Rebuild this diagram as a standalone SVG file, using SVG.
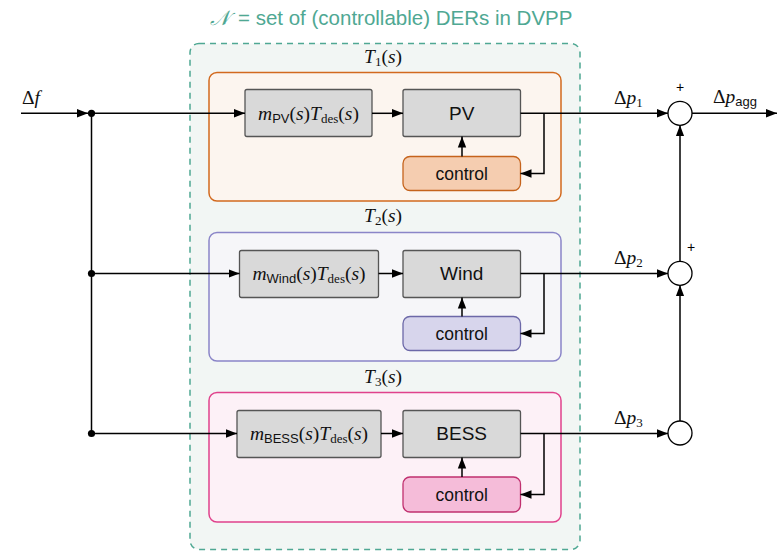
<svg xmlns="http://www.w3.org/2000/svg" width="777" height="551" viewBox="0 0 777 551">
<defs>
<marker id="ah" markerUnits="userSpaceOnUse" markerWidth="12" markerHeight="10" refX="11" refY="5" orient="auto">
<path d="M0,0.8 L11,5 L0,9.2 Z" fill="#000"/>
</marker>
<style>
.conn{fill:none;stroke:#000;stroke-width:1.5}
.arr{marker-end:url(#ah)}
.blk{fill:#d9d9d9;stroke:#555;stroke-width:1.3}
.sans{font-family:"Liberation Sans",Arial,sans-serif}
.it{font-style:italic}
.lbl{font-size:19px;fill:#111;text-anchor:middle}
.ctl{font-size:17.5px}
.math{font-family:"Liberation Serif","Times New Roman",serif;font-size:19.5px;fill:#111}
.sub{font-size:13px}
.ssub{font-family:"Liberation Sans",Arial,sans-serif;font-size:13px;font-style:normal}
</style>
</defs>
<rect width="777" height="551" fill="#fff"/>

<g id="dvpp">
<rect x="190" y="43.5" width="390" height="506" rx="9" fill="#f2f6f4" stroke="#4fa893" stroke-width="1.5" stroke-dasharray="6,5"/>
<text x="210" y="25" font-size="20.5" fill="#4fa893" class="sans"><tspan font-family="DejaVu Serif,serif" font-style="italic">𝒩</tspan><tspan x="238">= set of (controllable) DERs in DVPP</tspan></text>
</g>

<g id="T1">
<rect x="209" y="72.5" width="352" height="128.5" rx="8" fill="#fcf5ef" stroke="#d2691e" stroke-width="1.5"/>
<text x="383" y="63" text-anchor="middle" class="math"><tspan class="it">T</tspan><tspan class="sub" dy="3">1</tspan><tspan dy="-3">(</tspan><tspan class="it">s</tspan>)</text>
</g>
<g id="T2">
<rect x="209" y="232.5" width="352" height="128.5" rx="8" fill="#f6f6f9" stroke="#8a85c8" stroke-width="1.5"/>
<text x="383" y="222" text-anchor="middle" class="math"><tspan class="it">T</tspan><tspan class="sub" dy="3">2</tspan><tspan dy="-3">(</tspan><tspan class="it">s</tspan>)</text>
</g>
<g id="T3">
<rect x="209" y="392.5" width="352" height="129.5" rx="8" fill="#fdf1f7" stroke="#e0428c" stroke-width="1.5"/>
<text x="383" y="383" text-anchor="middle" class="math"><tspan class="it">T</tspan><tspan class="sub" dy="3">3</tspan><tspan dy="-3">(</tspan><tspan class="it">s</tspan>)</text>
</g>

<g id="mPV">
<rect class="blk" x="245" y="89.5" width="127" height="47" rx="2"/>
<text x="308.5" y="119.5" text-anchor="middle" class="math"><tspan class="it">m</tspan><tspan class="ssub" dy="3">PV</tspan><tspan dy="-3">(</tspan><tspan class="it">s</tspan>)<tspan class="it">T</tspan><tspan class="sub" dy="3">des</tspan><tspan dy="-3">(</tspan><tspan class="it">s</tspan>)</text>
</g>
<g id="PV">
<rect class="blk" x="403" y="89.5" width="117.5" height="47" rx="2"/>
<text x="461.7" y="120" class="sans lbl">PV</text>
</g>
<g id="ctrlPV">
<rect x="403" y="156.5" width="117.5" height="34" rx="7" fill="#f5cdb0" stroke="#c5631c" stroke-width="1.3"/>
<text x="461.7" y="180" class="sans lbl ctl">control</text>
</g>

<g id="mWind">
<rect class="blk" x="239.5" y="250.5" width="139" height="47" rx="2"/>
<text x="309" y="279.5" text-anchor="middle" class="math"><tspan class="it">m</tspan><tspan class="ssub" dy="3">Wind</tspan><tspan dy="-3">(</tspan><tspan class="it">s</tspan>)<tspan class="it">T</tspan><tspan class="sub" dy="3">des</tspan><tspan dy="-3">(</tspan><tspan class="it">s</tspan>)</text>
</g>
<g id="Wind">
<rect class="blk" x="403" y="250.5" width="117.5" height="47" rx="2"/>
<text x="461.7" y="280" class="sans lbl">Wind</text>
</g>
<g id="ctrlWind">
<rect x="403" y="316.5" width="117.5" height="34" rx="7" fill="#d7d5ec" stroke="#6c68a8" stroke-width="1.3"/>
<text x="461.7" y="340" class="sans lbl ctl">control</text>
</g>

<g id="mBESS">
<rect class="blk" x="237" y="410.5" width="144" height="47" rx="2"/>
<text x="309" y="439.5" text-anchor="middle" class="math"><tspan class="it">m</tspan><tspan class="ssub" dy="3">BESS</tspan><tspan dy="-3">(</tspan><tspan class="it">s</tspan>)<tspan class="it">T</tspan><tspan class="sub" dy="3">des</tspan><tspan dy="-3">(</tspan><tspan class="it">s</tspan>)</text>
</g>
<g id="BESS">
<rect class="blk" x="403" y="410.5" width="117.5" height="47" rx="2"/>
<text x="461.7" y="440" class="sans lbl">BESS</text>
</g>
<g id="ctrlBESS">
<rect x="403" y="477" width="117.5" height="35" rx="7" fill="#f5bcd9" stroke="#c0306f" stroke-width="1.3"/>
<text x="461.7" y="501" class="sans lbl ctl">control</text>
</g>

<g id="sum1"><circle cx="680" cy="113.3" r="12" fill="#fff" stroke="#000" stroke-width="1.3"/></g>
<g id="sum2"><circle cx="680" cy="273.3" r="12" fill="#fff" stroke="#000" stroke-width="1.3"/></g>
<g id="sum3"><circle cx="680" cy="433" r="12" fill="#fff" stroke="#000" stroke-width="1.3"/></g>

<g id="connectors">
<line class="conn arr" x1="21" y1="113.3" x2="88" y2="113.3"/>
<line class="conn arr" x1="91.5" y1="113.3" x2="245" y2="113.3"/>
<line class="conn" x1="91.5" y1="113.3" x2="91.5" y2="433.5"/>
<line class="conn arr" x1="91.5" y1="273.5" x2="239.5" y2="273.5"/>
<line class="conn arr" x1="91.5" y1="433.5" x2="237" y2="433.5"/>
<circle cx="91.5" cy="113.3" r="3.6" fill="#000"/>
<circle cx="91.5" cy="273.5" r="3.6" fill="#000"/>
<circle cx="91.5" cy="433.5" r="3.6" fill="#000"/>

<line class="conn arr" x1="372" y1="113.3" x2="403" y2="113.3"/>
<line class="conn arr" x1="378.5" y1="273.5" x2="403" y2="273.5"/>
<line class="conn arr" x1="381" y1="433.5" x2="403" y2="433.5"/>

<line class="conn arr" x1="520.5" y1="113.3" x2="668" y2="113.3"/>
<line class="conn arr" x1="520.5" y1="273.5" x2="668" y2="273.5"/>
<line class="conn arr" x1="520.5" y1="433.5" x2="668" y2="433.5"/>

<polyline class="conn arr" points="544,113.3 544,173.5 520.5,173.5"/>
<polyline class="conn arr" points="544,273.5 544,333.5 520.5,333.5"/>
<polyline class="conn arr" points="544,433.5 544,494.5 520.5,494.5"/>

<line class="conn arr" x1="462" y1="156.5" x2="462" y2="136.5"/>
<line class="conn arr" x1="462" y1="316.5" x2="462" y2="297.5"/>
<line class="conn arr" x1="462" y1="477" x2="462" y2="457.5"/>

<line class="conn arr" x1="680" y1="421" x2="680" y2="285.3"/>
<line class="conn arr" x1="680" y1="261.3" x2="680" y2="125.3"/>
<line class="conn arr" x1="692" y1="113.3" x2="777" y2="113.3"/>
</g>

<g id="labels">
<text x="22" y="104" class="math"><tspan>Δ</tspan><tspan class="it">f</tspan></text>
<text x="614" y="104" class="math"><tspan>Δ</tspan><tspan class="it">p</tspan><tspan class="sub" dy="3">1</tspan></text>
<text x="614" y="264" class="math"><tspan>Δ</tspan><tspan class="it">p</tspan><tspan class="sub" dy="3">2</tspan></text>
<text x="614" y="424" class="math"><tspan>Δ</tspan><tspan class="it">p</tspan><tspan class="sub" dy="3">3</tspan></text>
<text x="713" y="103" class="math"><tspan>Δ</tspan><tspan class="it">p</tspan><tspan class="ssub" dy="3">agg</tspan></text>
<text x="680" y="92" text-anchor="middle" class="sans" font-size="14" fill="#000">+</text>
<text x="691" y="252" text-anchor="middle" class="sans" font-size="14" fill="#000">+</text>
</g>
</svg>
